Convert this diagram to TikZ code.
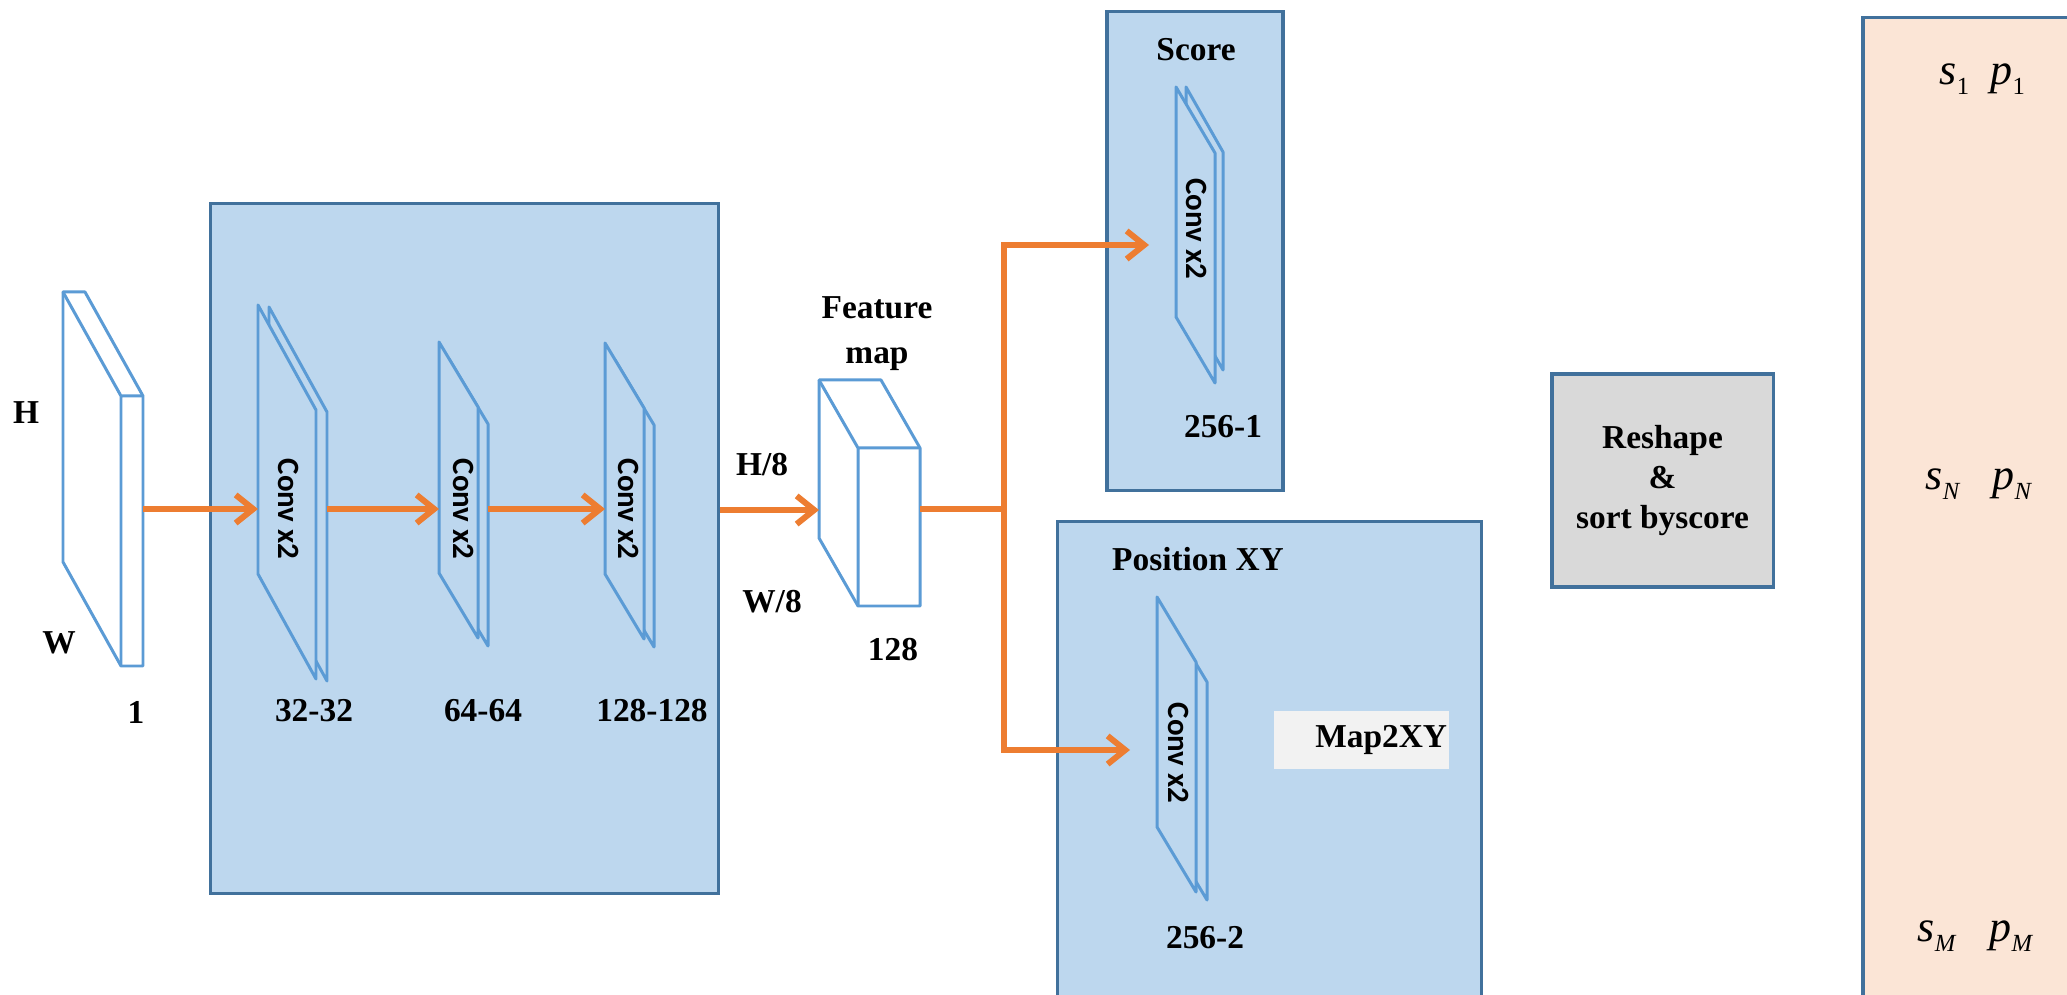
\documentclass[tikz,border=0pt]{standalone}
\usepackage{fontspec}
\setmainfont{Liberation Serif}
\newfontfamily\convfont{Carlito}
\usetikzlibrary{arrows.meta,positioning}
\definecolor{NetBlue}{HTML}{BDD7EE}
\definecolor{NetEdge}{HTML}{41719C}
\definecolor{NetLine}{HTML}{5B9BD5}
\definecolor{NetOrange}{HTML}{ED7D31}
\definecolor{NetGray}{HTML}{D9D9D9}
\definecolor{NetLight}{HTML}{F2F2F2}
\definecolor{NetPeach}{HTML}{FBE5D6}

\tikzset{
  lbl/.style={font=\fontsize{9.5}{11.4}\selectfont\bfseries, inner sep=0pt},
  convlbl/.style={font=\convfont\fontsize{8.8}{10}\selectfont\bfseries, rotate=-90, inner sep=0pt},
  mathlbl/.style={font=\fontsize{12.5}{14}\selectfont\itshape, inner sep=0pt, anchor=base west},
  sheet/.style={draw=NetLine, line width=0.85pt, line join=round},
  panel/.style={draw=NetEdge, line width=0.9pt, fill=NetBlue},
  flowline/.style={NetOrange, line width=1.7pt},
  flow/.style={flowline, -{Straight Barb[length=5pt,width=8pt]}}
}

% one slanted feature sheet: x, y, dx, dy, height
\newcommand{\convsheet}[6]{\filldraw[sheet, fill=#1] (#2,#3) -- ++(#4,#5) -- ++(0,#6) -- ++(-#4,-#5) -- cycle;}
\newcommand{\subidx}[1]{\raisebox{-2.8pt}{\fontsize{7}{7}\selectfont\upshape #1}}

\begin{document}
\begin{tikzpicture}[x=0.01cm, y=-0.01cm]
\useasboundingbox (0,0) rectangle (2067,995);
\clip (0,0) rectangle (2067,995);

% Panels
\node[panel, minimum width=5.07cm, minimum height=6.89cm] (enc) at (464.5,548.5) {};
\node[panel, minimum width=1.76cm, minimum height=4.78cm] (scorebox) at (1195,251) {};
\node[panel, minimum width=4.23cm, minimum height=4.9cm] (posbox) at (1269.5,767) {};
\node[draw=NetEdge, line width=0.9pt, fill=NetGray, minimum width=2.21cm, minimum height=2.13cm, align=center, lbl] (sortbox) at (1662.5,480.5) {Reshape\\ \&\hspace*{0.4cm}\\ sort byscore};
\node[draw=NetEdge, line width=0.9pt, fill=NetPeach, minimum width=2.2cm, minimum height=9.95cm] (outbox) at (1973,515.5) {};

% Input image
\draw[sheet, fill=white] (63,292) -- (85,292) -- (143,396) -- (143,666) -- (121,666) -- (63,562) -- cycle;
\draw[sheet] (63,292) -- (121,396) -- (143,396) (121,396) -- (121,666);
\coordinate (inR) at (143,509);
\node[lbl] (hlbl) at (26,413) {H};
\node[lbl] (wlbl) at (59,643) {W};
\node[lbl] (clbl) at (136,712) {1};

% Encoder - back sheet first, then front sheet
\foreach \n/\x/\y/\dx/\dy/\h/\ox/\oy/\oh/\lx/\tx/\txt in {
  1/258/305/58/105/269/11/2/0/289/314/32-32,
  2/439/342/39/65/231/10/17/9/464/483/64-64,
  3/605/343/39/65/231/10/17/9/629/652/128-128}
{
  \convsheet{NetBlue}{\x+\ox}{\y+\oy}{\dx}{\dy}{\h-\oh}
  \convsheet{NetBlue}{\x}{\y}{\dx}{\dy}{\h}
  \node[convlbl] (conv\n) at (\lx,509) {Conv x2};
  \node[lbl] (dep\n) at (\tx,711) {\txt};
  \coordinate (in\n) at (\x,509);
  \coordinate (out\n) at (\x+\dx+\ox,509);
}

% Feature map
\draw[sheet, fill=white] (819,380) -- (881,380) -- (920,448) -- (920,606) -- (858,606) -- (819,538) -- cycle;
\draw[sheet] (819,380) -- (858,448) -- (920,448) (858,448) -- (858,606);
\coordinate (fmIn) at (819,510);
\coordinate (fmOut) at (920,509);
\node[lbl, font=\fontsize{9.5}{12.8}\selectfont\bfseries, align=center] (fmlbl) at (877,334) {Feature\\map};
\node[lbl] (h8) at (762,465) {H/8};
\node[lbl] (w8) at (772,602) {W/8};
\node[lbl] (fmch) at (893,650) {128};

% Score head
\node[lbl] (scoretxt) at (1196,50) {Score};
\convsheet{NetBlue}{1186}{87}{37}{65}{218}
\convsheet{NetBlue}{1176}{87}{39}{66}{230}
\node[convlbl] (conv4) at (1197,229) {Conv x2};
\node[lbl] (dep4) at (1223,427) {256-1};
\coordinate (scIn) at (1149,245);

% Position head
\node[lbl] (postxt) at (1198,559) {Position XY};
\convsheet{NetBlue}{1168}{617}{39}{65}{218}
\convsheet{NetBlue}{1157}{597}{39}{65}{230}
\node[convlbl] (conv5) at (1179,753) {Conv x2};
\node[lbl] (dep5) at (1205,938) {256-2};
\node[lbl, fill=NetLight, inner xsep=0.02cm, text width=1.71cm, align=right, minimum height=0.58cm] (map2xy) at (1361.5,740) {Map2XY};
\coordinate (psIn) at (1130,750);

% Flow arrows
\draw[flow] (inR) -- (in1);
\draw[flow] (out1) -- (in2);
\draw[flow] (out2) -- (in3);
\draw[flow] (enc.east |- fmIn) -- (fmIn);
\coordinate (split) at (1004,509);
\draw[flowline] (fmOut) -- (split);
\draw[flow] (split) -- (split |- scIn) -- (scIn);
\draw[flow] (split) -- (split |- psIn) -- (psIn);

% Output list
\node[mathlbl] (s1) at (1939,85) {s\subidx{1}};
\node[mathlbl] (p1) at (1990,85) {p\subidx{1}};
\node[mathlbl] (sN) at (1925,490) {s\subidx{\itshape N}};
\node[mathlbl] (pN) at (1992,490) {p\subidx{\itshape N}};
\node[mathlbl] (sM) at (1917,942) {s\subidx{\itshape M}};
\node[mathlbl] (pM) at (1989,942) {p\subidx{\itshape M}};
\end{tikzpicture}
\end{document}
